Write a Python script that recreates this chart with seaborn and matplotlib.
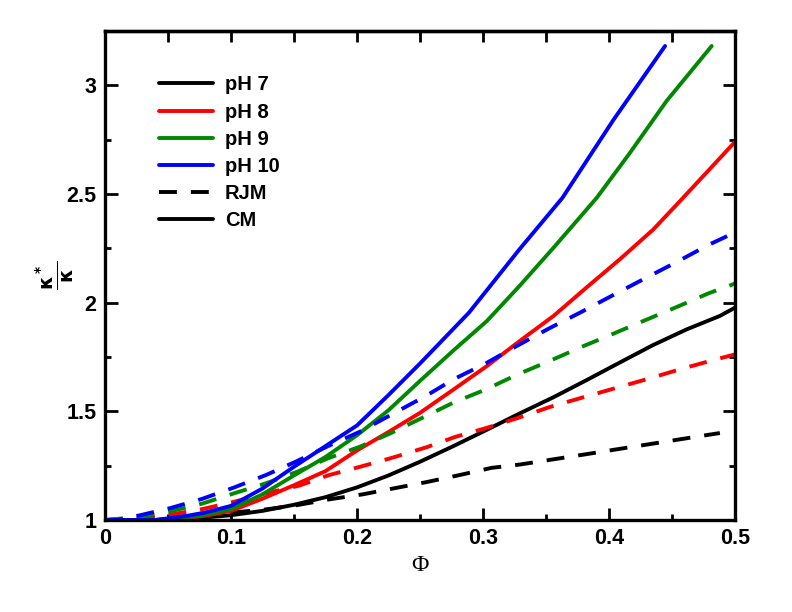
import numpy as np
import pandas as pd
import matplotlib
matplotlib.use("Agg")
import matplotlib.pyplot as plt
import seaborn as sns
from matplotlib.lines import Line2D
from matplotlib.ticker import MultipleLocator

# ---------------- data ----------------
# CM model (solid)
phi_cm_ph7 = [0, 0.05, 0.08, 0.10, 0.125, 0.15, 0.175, 0.20, 0.225, 0.25, 0.2765, 0.303, 0.329, 0.356, 0.382, 0.4087, 0.435, 0.4616, 0.488, 0.5]
k_cm_ph7 = [1.0, 1.0, 1.012, 1.022, 1.042, 1.07, 1.105, 1.15, 1.205, 1.268, 1.34, 1.415, 1.49, 1.565, 1.643, 1.725, 1.805, 1.877, 1.939, 1.977]

phi_cm_ph8 = [0, 0.04, 0.066, 0.08, 0.10, 0.125, 0.15, 0.175, 0.20, 0.225, 0.25, 0.2765, 0.303, 0.329, 0.356, 0.382, 0.4087, 0.435, 0.4563, 0.5]
k_cm_ph8 = [1.0, 1.0, 1.01, 1.02, 1.042, 1.098, 1.16, 1.225, 1.32, 1.405, 1.493, 1.60, 1.708, 1.823, 1.939, 2.069, 2.2, 2.336, 2.467, 2.74]

phi_cm_ph9 = [0, 0.04, 0.066, 0.08, 0.10, 0.125, 0.15, 0.175, 0.20, 0.225, 0.25, 0.2765, 0.303, 0.329, 0.356, 0.3902, 0.4167, 0.4457, 0.4815]
k_cm_ph9 = [1.0, 1.0, 1.012, 1.025, 1.05, 1.118, 1.205, 1.29, 1.39, 1.505, 1.64, 1.78, 1.915, 2.077, 2.253, 2.482, 2.69, 2.928, 3.181]

phi_cm_ph10 = [0, 0.04, 0.066, 0.08, 0.10, 0.125, 0.15, 0.175, 0.20, 0.225, 0.25, 0.289, 0.329, 0.363, 0.4034, 0.4445]
k_cm_ph10 = [1.0, 1.0, 1.02, 1.035, 1.065, 1.145, 1.245, 1.34, 1.435, 1.575, 1.72, 1.955, 2.246, 2.482, 2.84, 3.181]

# RJM model (dashed)
phi_rjm_ph7 = [0, 0.028, 0.052, 0.077, 0.1026, 0.128, 0.153, 0.178, 0.2045, 0.2296, 0.2548, 0.28, 0.3069, 0.329, 0.3545, 0.38, 0.4048, 0.43, 0.455, 0.48, 0.488]
k_rjm_ph7 = [1.0, 1.005, 1.012, 1.022, 1.035, 1.049, 1.069, 1.095, 1.118, 1.146, 1.174, 1.205, 1.24, 1.255, 1.278, 1.301, 1.324, 1.347, 1.37, 1.393, 1.40]

phi_rjm_ph8 = [0, 0.028, 0.052, 0.077, 0.1026, 0.1278, 0.154, 0.178, 0.2032, 0.2283, 0.2553, 0.2778, 0.303, 0.328, 0.353, 0.378, 0.4034, 0.4294, 0.4545, 0.4796, 0.5]
k_rjm_ph8 = [1.0, 1.01, 1.025, 1.05, 1.084, 1.123, 1.158, 1.207, 1.246, 1.287, 1.335, 1.382, 1.424, 1.47, 1.52, 1.562, 1.604, 1.647, 1.69, 1.731, 1.762]

phi_rjm_ph9 = [0, 0.028, 0.052, 0.077, 0.1026, 0.1278, 0.153, 0.177, 0.2026, 0.227, 0.2553, 0.2772, 0.302, 0.3275, 0.3526, 0.378, 0.4034, 0.4286, 0.4537, 0.479, 0.5]
k_rjm_ph9 = [1.0, 1.015, 1.04, 1.075, 1.123, 1.169, 1.223, 1.284, 1.338, 1.40, 1.48, 1.542, 1.60, 1.67, 1.731, 1.796, 1.857, 1.919, 1.98, 2.043, 2.088]

phi_rjm_ph10 = [0, 0.01, 0.028, 0.052, 0.077, 0.1026, 0.1278, 0.1516, 0.177, 0.2026, 0.227, 0.2553, 0.2765, 0.302, 0.3275, 0.3526, 0.378, 0.403, 0.428, 0.4537, 0.479, 0.5]
k_rjm_ph10 = [1.0, 1.0, 1.022, 1.055, 1.097, 1.15, 1.207, 1.269, 1.34, 1.407, 1.484, 1.573, 1.647, 1.72, 1.803, 1.882, 1.957, 2.034, 2.11, 2.187, 2.266, 2.323]

ph_labels = ["pH 7", "pH 8", "pH 9", "pH 10"]
model_labels = ["RJM", "CM"]
x_ticks = [0, 0.1, 0.2, 0.3, 0.4, 0.5]
x_tick_labels = ["0", "0.1", "0.2", "0.3", "0.4", "0.5"]
y_ticks = [1, 1.5, 2, 2.5, 3]
y_tick_labels = ["1", "1.5", "2", "2.5", "3"]

colors = {"pH 7": "#000000", "pH 8": "#ff0000", "pH 9": "#008800", "pH 10": "#0000ff"}

series = [
    ("pH 7", "CM", phi_cm_ph7, k_cm_ph7),
    ("pH 8", "CM", phi_cm_ph8, k_cm_ph8),
    ("pH 9", "CM", phi_cm_ph9, k_cm_ph9),
    ("pH 10", "CM", phi_cm_ph10, k_cm_ph10),
    ("pH 7", "RJM", phi_rjm_ph7, k_rjm_ph7),
    ("pH 8", "RJM", phi_rjm_ph8, k_rjm_ph8),
    ("pH 9", "RJM", phi_rjm_ph9, k_rjm_ph9),
    ("pH 10", "RJM", phi_rjm_ph10, k_rjm_ph10),
]
rows = []
for ph, model, xs, ys in series:
    for xv, yv in zip(xs, ys):
        rows.append({"phi": xv, "kappa": yv, "pH": ph, "model": model, "curve": ph + model})
df = pd.DataFrame(rows)

# ---------------- plotting ----------------
sns.set_style("ticks")
plt.rcParams["font.family"] = ["Liberation Sans", "DejaVu Sans"]
plt.rcParams["font.weight"] = "bold"
for key in ["text.color", "axes.labelcolor", "xtick.color", "ytick.color", "axes.edgecolor"]:
    plt.rcParams[key] = "black"

fig = plt.figure(figsize=(7.92, 6.12), dpi=100)
ax = fig.add_axes([105 / 792, 1 - 520 / 612, 630 / 792, 489 / 612])

LW = 2.8
dash = (4.6, 3.6)
sns.lineplot(data=df, x="phi", y="kappa", hue="pH", style="model",
             units="curve", estimator=None, sort=False,
             palette=colors, hue_order=ph_labels,
             dashes={"CM": "", "RJM": dash}, style_order=model_labels,
             linewidth=LW, legend=False, ax=ax)

ax.set_xlim(0, 0.5)
ax.set_ylim(1, 3.25)
ax.set_xticks(x_ticks)
ax.set_xticklabels(x_tick_labels)
ax.set_yticks(y_ticks)
ax.set_yticklabels(y_tick_labels)
ax.xaxis.set_minor_locator(MultipleLocator(0.05))
ax.yaxis.set_minor_locator(MultipleLocator(0.25))
ax.tick_params(which="both", direction="in", width=2.0, color="black",
               top=False, right=True, bottom=True, left=True)
ax.tick_params(which="major", length=9, labelsize=15.5, pad=6, labelcolor="black")
ax.tick_params(which="minor", length=4.5)
for lab in ax.get_xticklabels() + ax.get_yticklabels():
    lab.set_fontweight("bold")

secx = ax.secondary_xaxis("top")
secx.set_xticks(np.arange(0, 0.5001, 0.05))
secx.tick_params(direction="in", length=8, width=2.0, color="black", labeltop=False)
secx.spines["top"].set_linewidth(2.4)
secx.spines["top"].set_color("black")

for sp in ax.spines.values():
    sp.set_linewidth(2.4)
    sp.set_color("black")
    sp.set_visible(True)

ax.set_xlabel("Φ", fontfamily="Liberation Serif", fontsize=17, fontweight="normal",
              labelpad=4, color="black")
ax.set_ylabel(r"$\frac{\mathrm{\kappa}^*}{\mathrm{\kappa}}$", fontsize=20, labelpad=-7, color="black")

handles = [Line2D([], [], color=colors[p], lw=LW) for p in ph_labels]
handles.append(Line2D([], [], color="black", lw=LW, dashes=dash))
handles.append(Line2D([], [], color="black", lw=LW))
labels = ph_labels + model_labels
leg = ax.legend(handles, labels, loc="upper left", bbox_to_anchor=(0.0865, 0.909),
                frameon=False, borderpad=0, borderaxespad=0, handlelength=2.64,
                handletextpad=0.6, labelspacing=0.40,
                prop={"family": "Liberation Sans", "weight": "bold", "size": 14.5})
for t in leg.get_texts():
    t.set_color("black")

fig.savefig("out.png", dpi=100)
